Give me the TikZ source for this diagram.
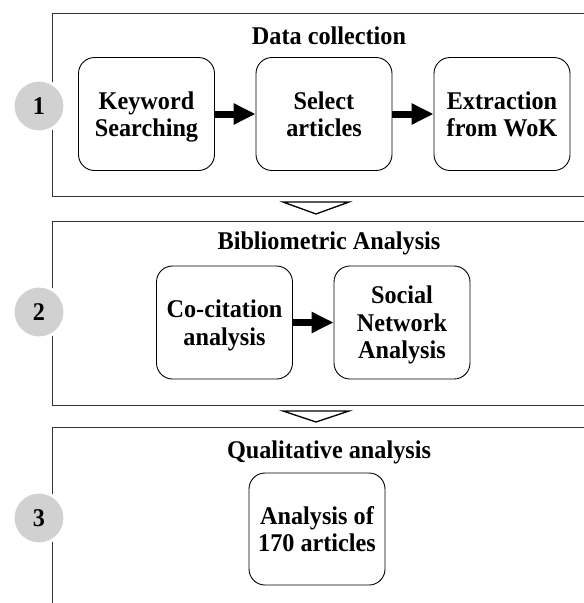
\documentclass[tikz,border=0pt]{standalone}
\usepackage{fontspec}
\setmainfont{Liberation Serif}[FakeStretch=0.95]
\usetikzlibrary{arrows.meta}
\begin{document}
\begin{tikzpicture}[x=1pt,y=-1pt,
  every node/.style={font=\bfseries\fontsize{25.5}{27.5}\selectfont, inner sep=0pt, align=center},
  stage/.style={draw=black!80, line width=1pt},
  stepbox/.style={draw=black, line width=0.9pt, rounded corners=16pt, minimum height=113pt, minimum width=136pt, text depth=0pt},
  num/.style={circle, fill=black!18, draw=white, line width=3pt, minimum size=52pt},
  flow/.style={line width=7pt, -{Triangle[length=22pt,width=20pt]}},
  down/.style={draw=black, line width=1.3pt, fill=white, line join=miter}
]
\useasboundingbox (0,0) rectangle (584,603);
\clip (0,0) rectangle (584,603);
% stage frames
\draw[stage] (52,13) rectangle (610,196);
\draw[stage] (52,221) rectangle (610,405);
\draw[stage] (52,427) rectangle (610,650);
% transitions
\draw[down] (283,202) -- (349,202) -- (316,214) -- cycle;
\draw[down] (283,411) -- (349,411) -- (316,422) -- cycle;
% stage numbers
\node[num] (n1) at (39,106) {1};
\node[num] (n2) at (39,312) {2};
\node[num] (n3) at (39,518) {3};
% titles
\node (t1) at (329,36) {Data collection};
\node (t2) at (329,243) {Bibliometric Analysis};
\node (t3) at (329,452) {Qualitative analysis};
% stage 1
\node[stepbox] (kw) at (146.5,114) {Keyword\\Searching};
\node[stepbox] (sel) at (324,114) {Select\\articles};
\node[stepbox] (ext) at (502,114) {Extraction\\from WoK};
\draw[flow] (kw) -- (sel);
\draw[flow] (sel) -- (ext);
% stage 2
\node[stepbox] (cc) at (224.5,322.5) {Co-citation\\analysis};
\node[stepbox] (sna) at (402,322.5) {Social\\Network\\Analysis};
\draw[flow] (cc) -- (sna);
% stage 3
\node[stepbox, minimum height=112pt] (qa) at (317,529) {Analysis of\\170 articles};
\end{tikzpicture}
\end{document}
